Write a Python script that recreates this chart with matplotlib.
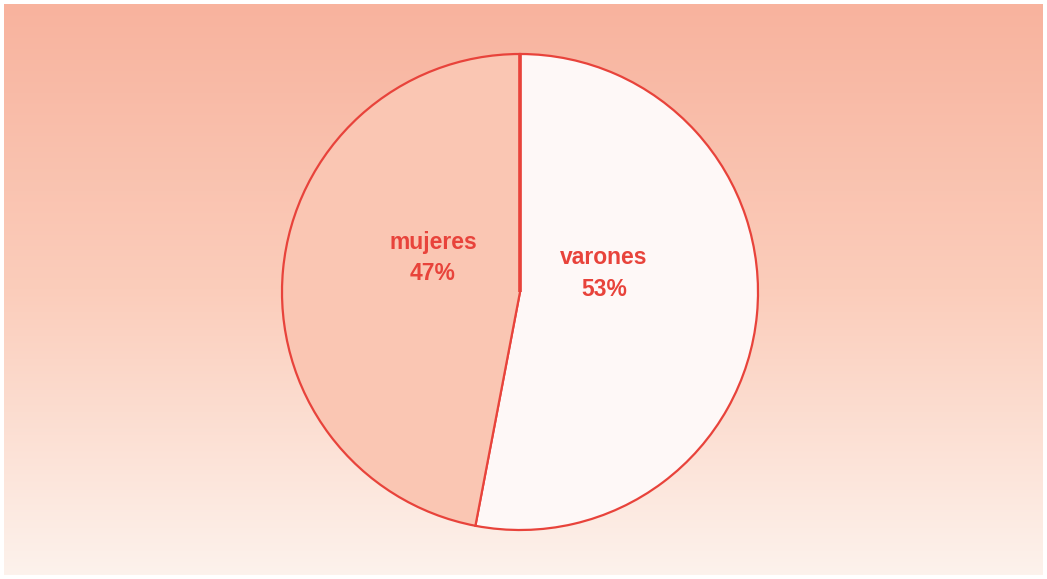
import matplotlib.pyplot as plt
import numpy as np
from matplotlib.colors import LinearSegmentedColormap

labels = ["varones", "mujeres"]
values = [53, 47]
fills = ["#FEF8F7", "#FAC6B3"]
edge = "#E8433B"

W, H = 1047, 579
fig = plt.figure(figsize=(W / 100, H / 100), dpi=100)
fig.patch.set_facecolor("white")

# gradient background panel
bg = fig.add_axes([4 / W, 4 / H, 1039 / W, 571 / H])
cmap = LinearSegmentedColormap.from_list("bg", ["#F8B39E", "#FBCDBB", "#FDF2EC"])
grad = np.linspace(0, 1, 256).reshape(-1, 1)
bg.imshow(grad, aspect="auto", cmap=cmap, extent=[0, 1, 0, 1])
bg.axis("off")

# pie
cx, cy, r = 520, 292, 238
ax = fig.add_axes([(cx - r) / W, (H - cy - r) / H, 2 * r / W, 2 * r / H])
wedges, _ = ax.pie(values, colors=fills, startangle=90, counterclock=False,
                   wedgeprops=dict(edgecolor=edge, linewidth=1.6))
ax.set_xlim(-1, 1)
ax.set_ylim(-1, 1)
ax.set_aspect("auto")
ax.plot([0, 0], [0, 1], color=edge, lw=2.6, solid_capstyle="butt", zorder=5)

lab_pos = {"varones": (604, 258), "mujeres": (433, 243)}
for lab, v in zip(labels, values):
    px, py = lab_pos[lab]
    fig.text(px / W, 1 - py / H, lab, color=edge, fontsize=16.5, fontweight="bold",
             family="Liberation Sans", ha="center", va="center")
    fig.text(px / W, 1 - (py + 31) / H, f"{v}%", color=edge, fontsize=16.5,
             fontweight="bold", family="Liberation Sans", ha="center", va="center")

fig.savefig("out.png", dpi=100)
